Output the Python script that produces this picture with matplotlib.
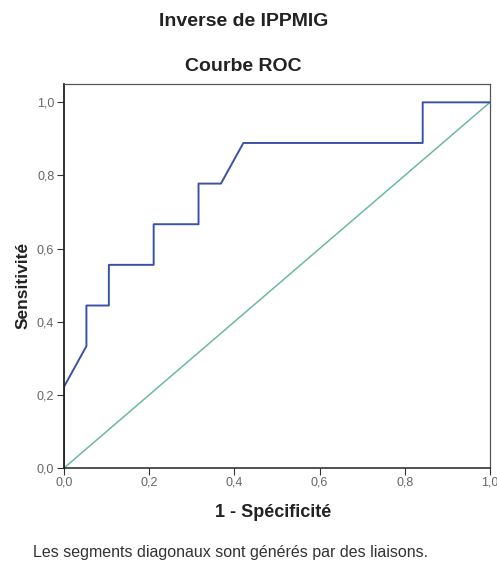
import matplotlib
matplotlib.use("Agg")
import matplotlib.pyplot as plt

# ROC curve points (19 negatives, 9 positives)
fpr = [0.0, 0.0, 0.0526, 0.0526, 0.1053, 0.1053, 0.2105, 0.2105,
       0.3158, 0.3158, 0.3684, 0.4211, 0.8421, 0.8421, 1.0]
tpr = [0.0, 0.2222, 0.3333, 0.4444, 0.4444, 0.5556, 0.5556, 0.6667,
       0.6667, 0.7778, 0.7778, 0.8889, 0.8889, 1.0, 1.0]
ref_x = [0.0, 1.0]
ref_y = [0.0, 1.0]
ticks = [0.0, 0.2, 0.4, 0.6, 0.8, 1.0]
tick_labels = ["0,0", "0,2", "0,4", "0,6", "0,8", "1,0"]

plt.rcParams['font.family'] = ['Liberation Sans', 'DejaVu Sans']

fig = plt.figure(figsize=(4.97, 5.63), dpi=100)
ax = fig.add_axes([0.1288, 0.1687, 0.857, 0.682])

ax.plot(ref_x, ref_y, color='#6db8a4', lw=1.1)
ax.plot(fpr, tpr, color='#3a52a6', lw=1.4)

ax.set_xlim(0, 1.0)
ax.set_ylim(0, 1.05)
ax.set_xticks(ticks)
ax.set_xticklabels(tick_labels)
ax.set_yticks(ticks)
ax.set_yticklabels(tick_labels)
ax.tick_params(direction='out', length=5, width=0.8, labelsize=9,
               labelcolor='#666666', color='#333333', pad=2)
ax.tick_params(axis='x', pad=1)
for s in ax.spines.values():
    s.set_color('#555555')
    s.set_linewidth(0.9)
ax.spines['left'].set_color('#222222')
ax.spines['bottom'].set_color('#222222')
ax.spines['left'].set_linewidth(1.3)
ax.spines['bottom'].set_linewidth(1.1)

ax.set_xlabel("1 - Spécificité", fontsize=13, fontweight='bold', color='#222222')
ax.set_ylabel("Sensitivité", fontsize=12.5, fontweight='bold', color='#222222')
ax.xaxis.label.set_va('center')
ax.yaxis.label.set_va('center')
ax.xaxis.set_label_coords(0.5 + (273 - 277) / 426, -0.115)
ax.yaxis.set_label_coords(-0.096, (468 - 285) / 384)

fig.text(0.491, 0.961, "Inverse de IPPMIG", ha='center', va='center',
         fontsize=14, fontweight='bold', color='#222222')
fig.text(0.489, 0.882, "Courbe ROC", ha='center', va='center',
         fontsize=14, fontweight='bold', color='#222222')
fig.text(0.066, 0.018, "Les segments diagonaux sont générés par des liaisons.",
         ha='left', va='center', fontsize=11.5, color='#333333')

fig.savefig("out.png", dpi=100)
